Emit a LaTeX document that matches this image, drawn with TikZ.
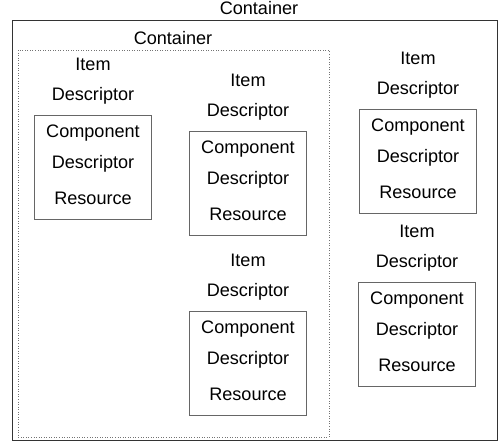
\documentclass[tikz,border=0pt]{standalone}
\usepackage{fontspec}
\setmainfont{Liberation Sans}
\usetikzlibrary{positioning}

\tikzset{
  word/.style={inner sep=0pt, text height=1.45ex, text depth=0.3ex, font=\fontsize{10.3}{12}\selectfont},
  compBox/.style={draw=black!60, line width=0.4pt, minimum width=2.34cm, minimum height=2.08cm, inner sep=0pt},
  outerBox/.style={draw=black!80, line width=0.45pt},
  innerBox/.style={draw=black!55, densely dotted, line width=0.45pt}
}

\begin{document}
\begin{tikzpicture}[x=0.02cm, y=-0.02cm]

\useasboundingbox (0,0) rectangle (501,443);

% containers
\draw[outerBox] (12,20) rectangle (497,440);
\draw[innerBox] (18,50) rectangle (329,437);

\node[word, anchor=south] (outerLabel) at (259,18) {Container};
\node[word, anchor=south] (innerLabel) at (173,48) {Container};

% items: name / centre x / top of component box
\foreach \n/\x/\y in {a/93/115, b/248/131, c/248/311, d/418/109, e/417/282}
{
\node[compBox, anchor=north] (box\n) at (\x,\y) {};

\node[word] (item\n) at (\x,\y-50) {Item};
\node[word] (desc\n) at (\x,\y-20) {Descriptor};

\node[word] (comp\n) at (\x,\y+17) {Component};
\node[word] (cdesc\n) at (\x,\y+48) {Descriptor};
\node[word] (res\n) at (\x,\y+84) {Resource};
}

\end{tikzpicture}
\end{document}
